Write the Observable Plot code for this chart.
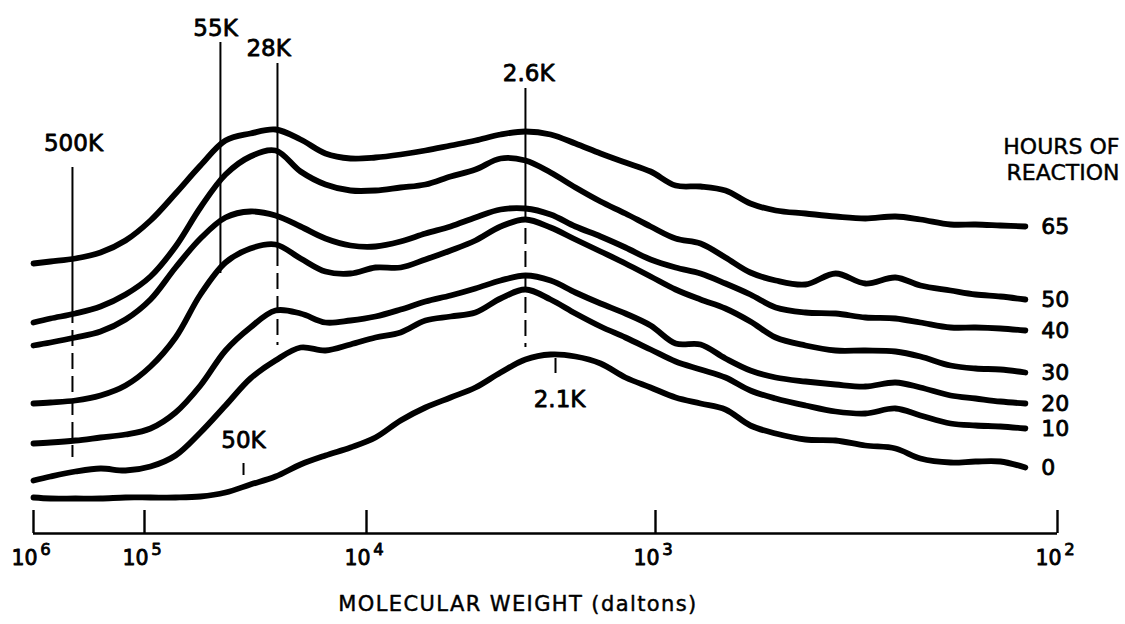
<!DOCTYPE html>
<html>
<head>
<meta charset="utf-8">
<script src="https://cdn.jsdelivr.net/npm/d3@7"></script>
<script src="https://cdn.jsdelivr.net/npm/@observablehq/plot@0.6"></script>
<style>
  html, body { margin: 0; padding: 0; background: #fff; }
  #chart svg { display: block; }
</style>
</head>
<body>
<div id="chart"></div>
<script>
// ---- data (x = log10 of molecular weight) ----
const logMW = [6.000, 5.847, 5.622, 5.396, 5.171, 4.973, 4.860, 4.748, 4.635, 4.523,
               4.410, 4.297, 4.185, 4.072, 3.969, 3.882, 3.796, 3.709, 3.623, 3.536,
               3.450, 3.363, 3.277, 3.190, 3.104, 3.017, 2.950, 2.888, 2.826, 2.764,
               2.701, 2.627, 2.552, 2.478, 2.403, 2.341, 2.266, 2.204, 2.142, 2.080];

const hours = [65, 50, 40, 30, 20, 10, 0];

// detector response (arbitrary units, traces offset vertically)
const h65 = [270,272,275,281,293,313,340,368,393,400,404,394,380,375,376,379,383,388,393,399,
             402,399,390,380,371,362,348,347,343,330,323,320,317,315,317,314,309,309,308,307];
const h50 = [211,215,220,227,239,257,287,326,359,377,383,362,349,343,343,346,349,357,364,375,
             373,361,346,332,320,307,295,290,276,261,253,249,260,250,256,248,243,239,237,234];
const h40 = [188,191,196,202,214,234,266,295,316,322,318,307,295,288,287,292,300,307,316,324,
             325,319,307,297,286,274,266,260,250,239,226,221,220,216,215,211,206,206,205,203];
const h30 = [130,131,133,138,148,167,196,239,271,285,289,275,262,260,266,266,274,283,293,307,
             314,306,294,282,270,257,244,234,225,212,196,188,183,183,182,177,168,165,164,161];
const h20 = [ 90, 91, 93, 96, 99,105,121,148,183,206,223,220,211,213,217,224,232,238,245,253,
             258,253,241,230,220,208,190,189,175,163,156,152,149,147,151,146,138,135,132,130];
const h10 = [ 53, 57, 62, 65, 63, 67, 78,101,128,155,173,186,183,189,196,201,213,217,221,235,
             244,234,220,207,196,184,172,164,156,143,135,128,122,120,125,118,110,108,107,105];
const h0  = [ 36, 35, 35, 35, 36, 36, 36, 37, 41, 49, 57, 69, 78, 86, 96,113,126,136,146,161,
             174,179,177,170,156,146,136,130,124,108,100, 94, 93, 88, 85, 75, 71, 72, 72, 66];

const tickExponents = [6, 5, 4, 3, 2];

// peak markers
const annLabels     = ["500K", "55K", "28K", "2.6K", "2.1K", "50K"];
const annLineX      = [5.649, 4.658, 4.401, 3.450, 3.346, 4.554];
const annLineTop    = [366, 491, 470, 445, 175, 70];
const annSolidEnd   = [226, 260, 283, 328, 160, 58];
const annLineBottom = [76, 260, 188, 186, 160, 58];
const annLabelX     = [5.640, 4.680, 4.441, 3.439, 3.332, 4.554];
const annLabelY     = [390, 505, 485, 460, 134, 93];

const xTitle = "MOLECULAR WEIGHT (daltons)";
const legendTitle = "HOURS OF\nREACTION";

// ---- build table ----
const series = [h65, h50, h40, h30, h20, h10, h0];
const rows = hours.flatMap((h, i) => logMW.map((x, j) => ({hours: h, logMW: x, signal: series[i][j]})));
const annIdx = annLabels.map((_, i) => i);
const dashedIdx = annIdx.filter(i => annSolidEnd[i] !== annLineBottom[i]);

const ink = "#000";
const boldText = {fill: ink, stroke: ink, strokeWidth: 0.8};
const plainText = {fill: ink, stroke: ink, strokeWidth: 0.45};

const chart = Plot.plot({
  width: 1125,
  height: 624,
  marginTop: 0, marginRight: 0, marginBottom: 0, marginLeft: 0,
  x: {type: "linear", domain: [6, 5, 4, 3, 2], range: [33, 144, 366, 655, 1057], axis: null},
  y: {type: "linear", domain: [0, 500], range: [533, 33], axis: null},
  style: {fontFamily: "'DejaVu Sans', 'Liberation Sans', sans-serif", background: "#fff", color: ink},
  marks: [
    // axis baseline and ticks
    Plot.ruleY([0], {x1: () => 6, x2: () => 2, stroke: ink, strokeWidth: 2.4}),
    Plot.ruleX(tickExponents, {x: d => d, y1: () => 0, y2: () => 23, stroke: ink, strokeWidth: 2.4}),
    Plot.text(tickExponents, {x: d => d, y: () => 0, text: () => "10", dx: -9, dy: 24.5,
      fontSize: 20.5, lineAnchor: "middle", textAnchor: "middle", ...boldText}),
    Plot.text(tickExponents, {x: d => d, y: () => 0, text: d => String(d), dx: 12, dy: 16,
      fontSize: 16.5, lineAnchor: "middle", textAnchor: "middle", ...boldText}),
    Plot.text([xTitle], {frameAnchor: "bottom", dx: -45, dy: -20, lineAnchor: "middle",
      fontSize: 21, ...plainText}),

    // marker lines
    Plot.ruleX(annIdx, {x: i => annLineX[i], y1: i => annLineTop[i], y2: i => annSolidEnd[i],
      stroke: ink, strokeWidth: 2}),
    Plot.ruleX(dashedIdx, {x: i => annLineX[i], y1: i => annSolidEnd[i], y2: i => annLineBottom[i],
      stroke: ink, strokeWidth: 2, strokeDasharray: "16,7"}),

    // chromatograms
    Plot.line(rows, {x: "logMW", y: "signal", z: "hours", curve: "catmull-rom",
      stroke: ink, strokeWidth: 5.8, strokeLinecap: "round", strokeLinejoin: "round"}),

    // labels
    Plot.text(annIdx, {x: i => annLabelX[i], y: i => annLabelY[i], text: i => annLabels[i],
      fontSize: 23, lineAnchor: "middle", ...boldText}),
    Plot.text(rows, Plot.selectLast({x: "logMW", y: "signal", z: "hours", text: d => String(d.hours),
      dx: 16, textAnchor: "start", lineAnchor: "middle", fontSize: 22, ...boldText})),
    Plot.text([legendTitle], {frameAnchor: "top-right", textAnchor: "end", dx: -6, dy: 158,
      lineAnchor: "middle", lineHeight: 1.2, fontSize: 22, ...plainText})
  ]
});

d3.select(chart).selectAll("text").filter(function () { return this.textContent === xTitle; })
  .style("letter-spacing", "1.4px");

document.getElementById("chart").appendChild(chart);
</script>
</body>
</html>
